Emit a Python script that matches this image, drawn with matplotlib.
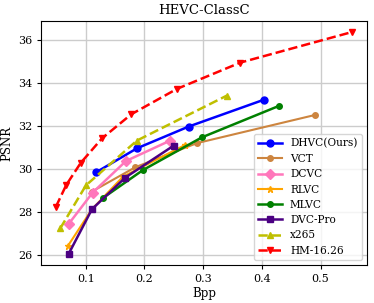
import matplotlib
matplotlib.use("Agg")
import matplotlib.pyplot as plt

plt.rcParams['font.family'] = 'DejaVu Serif'

# bpp / psnr per method
dhvc_bpp = [0.1175, 0.1874, 0.2755, 0.403]
dhvc_psnr = [29.84, 30.96, 31.97, 33.21]

vct_bpp = [0.1107, 0.1845, 0.2896, 0.491]
vct_psnr = [28.95, 30.08, 31.20, 32.51]

dcvc_bpp = [0.0709, 0.1118, 0.1687, 0.2441]
dcvc_psnr = [27.44, 28.90, 30.37, 31.32]

rlvc_bpp = [0.0698, 0.1107, 0.1635, 0.2697]
rlvc_psnr = [26.43, 28.13, 29.64, 31.12]

mlvc_bpp = [0.1288, 0.1976, 0.2981, 0.4293]
mlvc_psnr = [28.64, 29.95, 31.47, 32.93]

dvcpro_bpp = [0.0709, 0.1107, 0.1675, 0.2497]
dvcpro_psnr = [26.05, 28.13, 29.60, 31.08]

x265_bpp = [0.0567, 0.1005, 0.1874, 0.3407]
x265_psnr = [27.24, 29.24, 31.32, 33.41]

hm_bpp = [0.0494, 0.067, 0.0918, 0.1278, 0.1777, 0.2555, 0.3634, 0.5537]
hm_psnr = [28.25, 29.26, 30.29, 31.42, 32.54, 33.72, 34.94, 36.36]

fig, ax = plt.subplots(figsize=(3.74, 3.03), dpi=100)

ax.plot(dhvc_bpp, dhvc_psnr, '-o', color='blue', lw=1.8, ms=5, label='DHVC(Ours)')
ax.plot(vct_bpp, vct_psnr, '-o', color='peru', lw=1.5, ms=4, label='VCT')
ax.plot(dcvc_bpp, dcvc_psnr, '-D', color='#ff77bb', lw=1.8, ms=5, label='DCVC')
ax.plot(rlvc_bpp, rlvc_psnr, '-*', color='orange', lw=1.5, ms=5, label='RLVC')
ax.plot(mlvc_bpp, mlvc_psnr, '-o', color='green', lw=1.8, ms=4, label='MLVC')
ax.plot(dvcpro_bpp, dvcpro_psnr, '-s', color='indigo', lw=1.8, ms=5, label='DVC-Pro')
ax.plot(x265_bpp, x265_psnr, '--^', color='y', lw=1.8, ms=5, label='x265')
ax.plot(hm_bpp, hm_psnr, '--v', color='red', lw=1.8, ms=5, label='HM-16.26')

ax.set_title('HEVC-ClassC', fontsize=9.5, pad=5)
ax.set_xlabel('Bpp', fontsize=8.5, labelpad=2)
ax.set_ylabel('PSNR', fontsize=8.5, labelpad=3)
ax.tick_params(labelsize=8, length=3)
ax.set_yticks([26, 28, 30, 32, 34, 36])
ax.grid(True, color='#cccccc', lw=1)
ax.legend(loc='lower right', fontsize=7.6, handlelength=2.2, labelspacing=0.5)

fig.subplots_adjust(left=0.11, right=0.981, top=0.931, bottom=0.125)
fig.savefig('out.png')
